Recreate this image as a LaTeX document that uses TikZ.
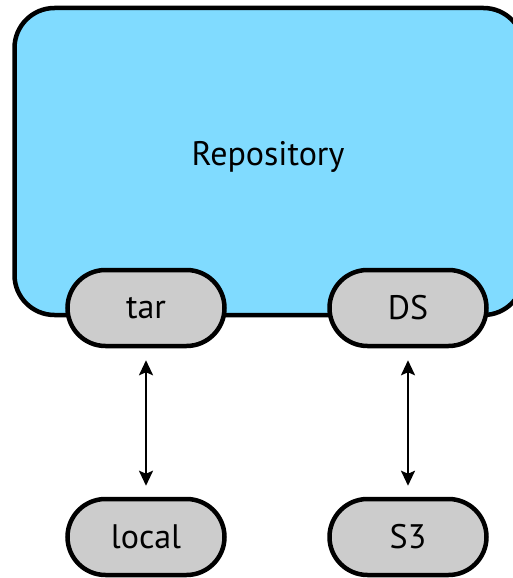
\documentclass[tikz,border=0pt]{standalone}
\usepackage{fontspec}
\setmainfont{PT Sans}
\usepackage{xcolor}
\usepackage{tikz}
\usetikzlibrary{arrows.meta,positioning,shapes.misc}

\definecolor{repoblue}{HTML}{80DBFF}
\definecolor{pillgray}{HTML}{CCCCCC}

\begin{document}
\begin{tikzpicture}[
  x=1pt,y=-1pt,
  font=\fontsize{34}{40}\selectfont,
  repobox/.style={draw,line width=4.5pt,rounded corners=40pt,fill=repoblue,minimum width=509pt,minimum height=307pt,inner sep=0pt},
  pill/.style={draw,line width=4.5pt,rounded rectangle,fill=pillgray,minimum width=157pt,minimum height=76pt,inner sep=0pt},
  arr/.style={{Stealth[length=15pt,width=14pt,inset=3pt]}-{Stealth[length=15pt,width=14pt,inset=3pt]},line width=2.2pt,shorten <=12pt,shorten >=11pt}
]
\useasboundingbox (0,0) rectangle (513,578);
\node[repobox] (repo) at (269,161.5) {};
\node (repolabel) at (268,157) {Repository};
\node[pill] (tar) at (146,308) {tar};
\node[pill] (ds) at (408,308) {DS};
\node[pill] (local) at (146,537) {local};
\node[pill] (sthree) at (408,537) {S3};
\draw[arr] (tar.south) -- (local.north);
\draw[arr] (ds.south) -- (sthree.north);
\end{tikzpicture}
\end{document}
